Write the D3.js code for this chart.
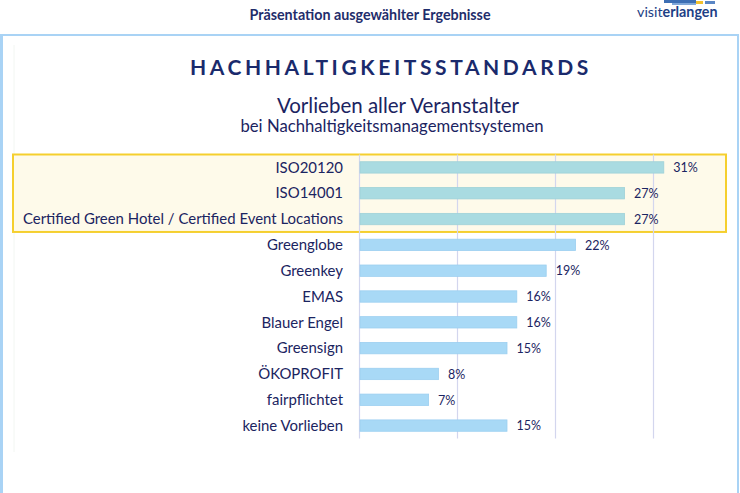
<!DOCTYPE html>
<html>
<head>
<meta charset="UTF-8">
<title>Hachhaltigkeitsstandards</title>
<script src="https://d3js.org/d3.v7.min.js"></script>
<style>
  body { margin: 0; background: #fff; }
  svg { display: block; font-family: Lato, "Noto Sans", sans-serif; }
  .cat { font-size: 14.95px; fill: #1b2461; }
  .val { font-size: 12.5px; fill: #1b2461; }
</style>
</head>
<body>
<div id="chart"></div>
<script>
// Daten
const categories = ["ISO20120", "ISO14001", "Certified Green Hotel / Certified Event Locations",
  "Greenglobe", "Greenkey", "EMAS", "Blauer Engel", "Greensign", "ÖKOPROFIT", "fairpflichtet", "keine Vorlieben"];
const values = [31, 27, 27, 22, 19, 16, 16, 15, 8, 7, 15];
const highlighted = ["ISO20120", "ISO14001", "Certified Green Hotel / Certified Event Locations"];
const gridTicks = [0, 10, 20, 30];

const W = 740, H = 493;
const svg = d3.select("#chart").append("svg").attr("width", W).attr("height", H);

// Kopfzeile
svg.append("text").attr("x", 370).attr("y", 20).attr("text-anchor", "middle")
  .style("font-size", "14.3px").style("font-weight", "bold").attr("fill", "#1f2d6b")
  .text("Präsentation ausgewählter Ergebnisse");

// Logo (nur angedeutet)
const logo = svg.append("g");
logo.append("rect").attr("x", 664).attr("y", 0).attr("width", 32).attr("height", 3).attr("fill", "#3d6fb4");
logo.append("rect").attr("x", 672).attr("y", 3).attr("width", 24).attr("height", 2).attr("fill", "#7fa7d9");
logo.append("rect").attr("x", 696).attr("y", 1).attr("width", 7).attr("height", 3).attr("fill", "#f2c12e");
logo.append("rect").attr("x", 705).attr("y", 1).attr("width", 10).attr("height", 3).attr("fill", "#5a86c5");
const lt = logo.append("text").attr("x", 637).attr("y", 17).style("font-size", "14.3px").attr("fill", "#1d3f86");
lt.append("tspan").text("visit");
lt.append("tspan").style("font-weight", "bold").text("erlangen");

// Rahmen
svg.append("rect").attr("x", 1).attr("y", 35).attr("width", 737).attr("height", 470)
  .attr("fill", "none").attr("stroke", "#a9d3f5").attr("stroke-width", 2);
svg.append("line").attr("x1", 2).attr("x2", 2).attr("y1", 35).attr("y2", 493)
  .attr("stroke", "#a9d3f5").attr("stroke-width", 2);
svg.append("line").attr("x1", 14).attr("x2", 14).attr("y1", 45).attr("y2", 452)
  .attr("stroke", "#f2f6f2").attr("stroke-width", 1);

// Titel
svg.append("text").attr("x", 391).attr("y", 75).attr("text-anchor", "middle")
  .style("font-size", "21px").style("font-weight", "bold").style("letter-spacing", "3.6px")
  .attr("fill", "#1a2a6c").text("HACHHALTIGKEITSSTANDARDS");
svg.append("text").attr("x", 398).attr("y", 113).attr("text-anchor", "middle")
  .style("font-size", "20.5px").attr("fill", "#1b2461")
  .text("Vorlieben aller Veranstalter");
svg.append("text").attr("x", 392).attr("y", 132).attr("text-anchor", "middle")
  .style("font-size", "16.7px").attr("fill", "#1b2461").text("bei Nachhaltigkeitsmanagementsystemen");

// Skalen
const x = d3.scaleLinear().domain([0, 35]).range([359.5, 702.5]);
const y = d3.scaleBand().domain(categories).range([154.5, 438.5])
  .paddingInner(0.56).paddingOuter(0.28);
const gap = (y.step() - y.bandwidth()) / 2;

// Hervorhebung
const boxTop = y(highlighted[0]) - gap;
const boxBottom = y(highlighted[highlighted.length - 1]) + y.bandwidth() + gap;
svg.append("rect").attr("x", 13).attr("y", boxTop).attr("width", 713).attr("height", boxBottom - boxTop)
  .attr("fill", "#fefaea").attr("stroke", "#f5cf2e").attr("stroke-width", 2);

// Gitterlinien
svg.append("g").selectAll("line").data(gridTicks).join("line")
  .attr("x1", d => x(d)).attr("x2", d => x(d))
  .attr("y1", y.range()[0]).attr("y2", y.range()[1])
  .attr("stroke", "#d3d6ee").attr("stroke-width", 1.2);

// Balken
svg.append("g").selectAll("rect").data(categories).join("rect")
  .attr("x", x(0) + 0.5)
  .attr("y", d => y(d))
  .attr("width", (d, i) => x(values[i]) - x(0))
  .attr("height", y.bandwidth())
  .attr("fill", d => highlighted.includes(d) ? "#a9dbe1" : "#a8d9f6")
  .attr("stroke", d => highlighted.includes(d) ? "#9fd1d8" : "#9ccff0")
  .attr("stroke-width", 0.8);

// Kategorien
svg.append("g").selectAll("text").data(categories).join("text")
  .attr("class", "cat")
  .attr("x", 343)
  .attr("y", d => y(d) + y.bandwidth() / 2)
  .attr("dy", "0.35em")
  .attr("text-anchor", "end")
  .text(d => d);

// Werte
svg.append("g").selectAll("text").data(categories).join("text")
  .attr("class", "val")
  .attr("x", (d, i) => x(values[i]) + 10)
  .attr("y", d => y(d) + y.bandwidth() / 2)
  .attr("dy", "0.38em")
  .text((d, i) => values[i] + "%");
</script>
</body>
</html>
